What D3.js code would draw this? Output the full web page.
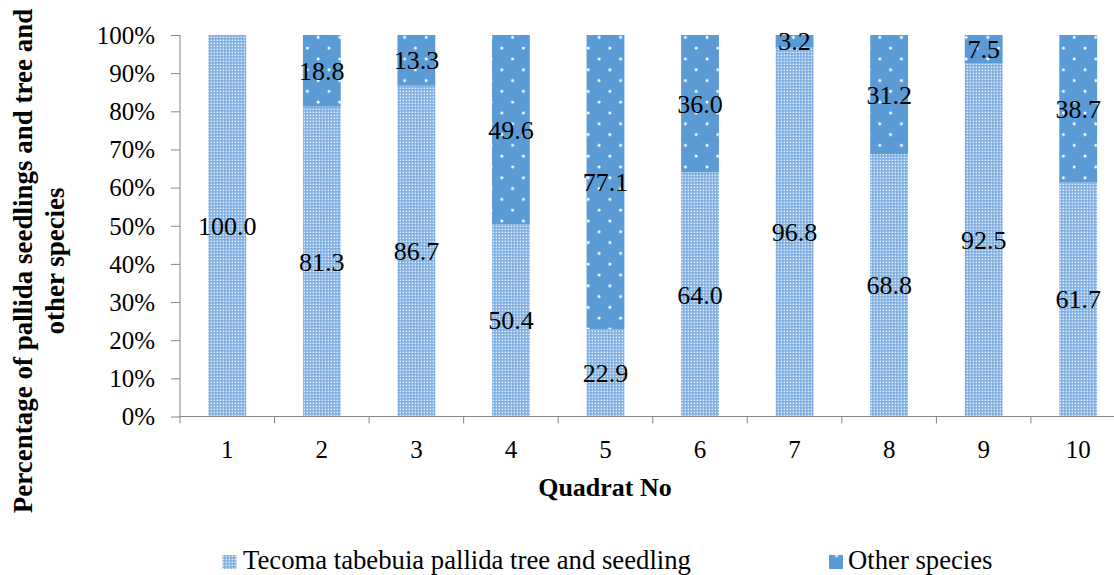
<!DOCTYPE html>
<html>
<head>
<meta charset="utf-8">
<script src="https://cdn.jsdelivr.net/npm/d3@7"></script>
<style>
  html, body { margin: 0; padding: 0; background: #fff; }
  svg { display: block; font-family: "Liberation Serif", "Times New Roman", serif; }
</style>
</head>
<body>
<svg id="chart" width="1114" height="575"></svg>
<script>
const categories = ["1", "2", "3", "4", "5", "6", "7", "8", "9", "10"];
const tecoma = [100.0, 81.3, 86.7, 50.4, 22.9, 64.0, 96.8, 68.8, 92.5, 61.7];
const others = [0, 18.8, 13.3, 49.6, 77.1, 36.0, 3.2, 31.2, 7.5, 38.7];
const seriesNames = ["Tecoma tabebuia pallida tree and seedling", "Other species"];
const yTicks = [0, 0.1, 0.2, 0.3, 0.4, 0.5, 0.6, 0.7, 0.8, 0.9, 1.0];

const svg = d3.select("#chart");
const defs = svg.append("defs");

// light checker pattern
const p1 = defs.append("pattern").attr("id", "patLight")
  .attr("patternUnits", "userSpaceOnUse").attr("width", 3).attr("height", 3);
p1.append("rect").attr("width", 3).attr("height", 3).attr("fill", "#7eaee0");
p1.append("rect").attr("x", 0.6).attr("y", 0.6).attr("width", 1.5).attr("height", 1.5).attr("fill", "#e6f0fb");

// dotted dark pattern
const p2 = defs.append("pattern").attr("id", "patDark")
  .attr("patternUnits", "userSpaceOnUse").attr("width", 21.6).attr("height", 21.6);
p2.append("rect").attr("width", 21.6).attr("height", 21.6).attr("fill", "#5b9bd5");
p2.append("circle").attr("cx", 5).attr("cy", 5).attr("r", 1.5).attr("fill", "#ffffff");
p2.append("circle").attr("cx", 15.8).attr("cy", 15.8).attr("r", 1.5).attr("fill", "#ffffff");

const mLeft = 180, mRight = 1125.5, mTop = 35, mBottom = 416.5;

const x = d3.scaleBand().domain(categories).range([mLeft, mRight]).padding(0);
const y = d3.scaleLinear().domain([0, 1]).range([mBottom, mTop]);

const rows = categories.map((c, i) => ({ cat: c, t: tecoma[i], o: others[i] }));
const stack = d3.stack().keys(["t", "o"]).offset(d3.stackOffsetExpand);
const stacked = stack(rows);
const fills = ["url(#patLight)", "url(#patDark)"];
const barW = x.bandwidth() * 0.4;

stacked.forEach((layer, li) => {
  const g = svg.append("g");
  g.selectAll("rect").data(layer).enter().append("rect")
    .attr("x", d => x(d.data.cat) + (x.bandwidth() - barW) / 2)
    .attr("width", barW)
    .attr("y", d => y(d[1]))
    .attr("height", d => y(d[0]) - y(d[1]))
    .attr("fill", fills[li]);
});

// axes
const axisColor = "#868686";
const yAxis = svg.append("g").attr("transform", `translate(${mLeft},0)`)
  .call(d3.axisLeft(y).tickValues(yTicks).tickFormat(d3.format(".0%")).tickSize(9).tickPadding(16));
yAxis.select(".domain").attr("stroke", axisColor).attr("d", `M0,${mTop}V${mBottom + 7}`);
yAxis.selectAll(".tick line").attr("stroke", axisColor);
yAxis.selectAll(".tick text").attr("font-size", 25).attr("fill", "#000")
  .attr("font-family", "Liberation Serif").attr("dy", "0.33em");

const xAxis = svg.append("g").attr("transform", `translate(0,${mBottom})`);
xAxis.append("line").attr("x1", mLeft).attr("x2", 1114).attr("y1", 0).attr("y2", 0).attr("stroke", axisColor);
xAxis.selectAll("line.tk").data(categories).enter().append("line").attr("class", "tk")
  .attr("x1", d => x(d) + x.bandwidth()).attr("x2", d => x(d) + x.bandwidth())
  .attr("y1", 0).attr("y2", 7).attr("stroke", axisColor);
xAxis.selectAll("text").data(categories).enter().append("text")
  .attr("x", d => x(d) + x.bandwidth() / 2).attr("y", 41)
  .attr("text-anchor", "middle").attr("font-size", 25).text(d => d);

// data labels
stacked.forEach((layer) => {
  svg.append("g").selectAll("text").data(layer.filter(d => d.data[layer.key] > 0)).enter().append("text")
    .attr("x", d => x(d.data.cat) + x.bandwidth() / 2)
    .attr("y", d => (y(d[0]) + y(d[1])) / 2)
    .attr("dy", "0.35em")
    .attr("text-anchor", "middle").attr("font-size", 26).attr("fill", "#000")
    .text(d => d.data[layer.key].toFixed(1));
});

// axis titles
svg.append("text").attr("x", 605).attr("y", 496).attr("text-anchor", "middle")
  .attr("font-size", 26).attr("font-weight", "bold").text("Quadrat No");

const yt = svg.append("text").attr("transform", "translate(0,261) rotate(-90)")
  .attr("text-anchor", "middle").attr("font-size", 27).attr("font-weight", "bold");
yt.append("tspan").attr("x", 0).attr("y", 32).text("Percentage of pallida seedlings and tree and");
yt.append("tspan").attr("x", 0).attr("y", 64).text("other species");

// legend
const legendPos = [{ mx: 222.5, tx: 243 }, { mx: 829, tx: 848 }];
seriesNames.forEach((name, i) => {
  svg.append("rect").attr("x", legendPos[i].mx).attr("y", 555).attr("width", 14).attr("height", 14)
    .attr("fill", fills[i]);
  svg.append("text").attr("x", legendPos[i].tx).attr("y", 569).attr("font-size", 26.7).text(name);
});
</script>
</body>
</html>
